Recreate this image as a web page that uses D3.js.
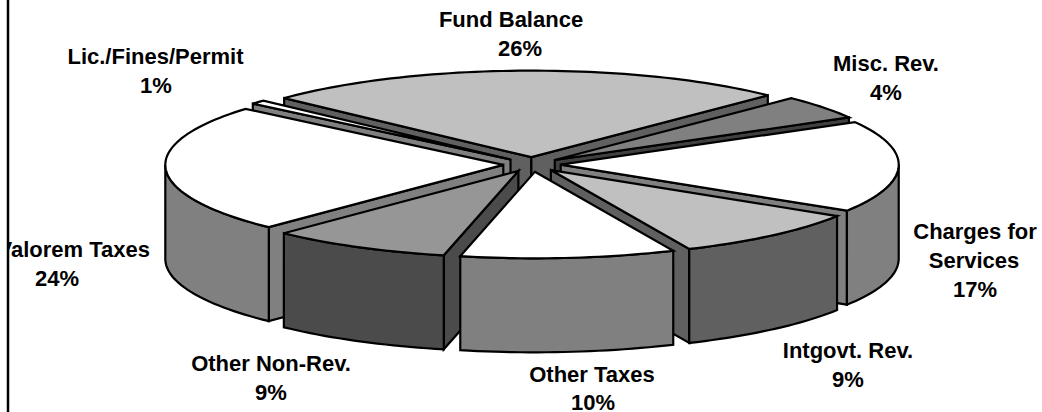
<!DOCTYPE html>
<html><head><meta charset="utf-8">
<style>html,body{margin:0;padding:0;background:#fff}svg{display:block}</style>
<script src="https://cdn.jsdelivr.net/npm/d3@7"></script></head>
<body><svg id="c" width="1042" height="412"></svg>
<script>
const categories = ["Fund Balance","Misc. Rev.","Charges for Services","Intgovt. Rev.","Other Taxes","Other Non-Rev.","Ad Valorem Taxes","Lic./Fines/Permit"];
const shares = [25.5,4.49,17.2,9.4,10.3,8.7,24.1,0.75];
const percentLabels = ["26%","4%","17%","9%","10%","9%","24%","1%"];
const topColors = ["#c0c0c0","#808080","#ffffff","#c0c0c0","#ffffff","#969696","#ffffff","#ffffff"];
const sideColors = ["#606060","#404040","#808080","#606060","#808080","#4b4b4b","#808080","#808080"];
const labelLines = [[["Fund Balance",511,27],["26%",520,56]],[["Misc. Rev.",886,71],["4%",886,100]],[["Charges for",975,239],["Services",974,268],["17%",975,297]],[["Intgovt. Rev.",848,358],["9%",848,387]],[["Other Taxes",592,382],["10%",593,410]],[["Other Non-Rev.",271,371],["9%",271,400]],[["Ad Valorem Taxes",56,257],["24%",57,286]],[["Lic./Fines/Permit",155.5,64],["1%",156,93]]];

const W=1042,H=412,cx=532,cy=164.5,rx=338,ry=86.5,depth=94,explode=0.085;
const svg=d3.select("#c");
const px=d3.scaleLinear().domain([-1,1]).range([cx-rx,cx+rx]);
const py=d3.scaleLinear().domain([-1,1]).range([cy-ry,cy+ry]);
const rad=d=>d*Math.PI/180;
const pie=d3.pie().sort(null).startAngle(rad(223)).endAngle(rad(583));
const arcs=pie(shares).map((a,i)=>({...a,i,mid:(a.startAngle+a.endAngle)/2}));
const line=d3.line();
const rim=(a,s,e)=>{const n=Math.max(2,Math.ceil((e-s)/rad(1.5)));return d3.range(n+1).map(k=>{const t=s+(e-s)*k/n;return [a.ox+rx*Math.cos(t),a.oy+ry*Math.sin(t)];});};
arcs.forEach(a=>{a.ox=px(explode*Math.cos(a.mid));a.oy=py(explode*Math.sin(a.mid));});
const order=arcs.slice().sort((p,q)=>Math.sin(p.mid)-Math.sin(q.mid));
const g=svg.append("g").attr("stroke","#000").attr("stroke-width",2.2).attr("stroke-linejoin","miter");
order.forEach(a=>{
  const side=sideColors[a.i];
  const draw=(pts,fill)=>g.append("path").attr("d",line(pts)+"Z").attr("fill",fill);
  const cut=t=>{const e=[a.ox+rx*Math.cos(t),a.oy+ry*Math.sin(t)];draw([[a.ox,a.oy],e,[e[0],e[1]+depth],[a.ox,a.oy+depth]],side);};
  if(-Math.cos(a.startAngle)>0)cut(a.startAngle);
  if(Math.cos(a.endAngle)>0)cut(a.endAngle);
  // outer wall over each front-facing turn of the circle
  [[0,Math.PI],[2*Math.PI,3*Math.PI]].forEach(([lo,hi])=>{
    const s=Math.max(a.startAngle,lo),e=Math.min(a.endAngle,hi);
    if(e>s){const r=rim(a,s,e);draw(r.concat(r.slice().reverse().map(p=>[p[0],p[1]+depth])),side);}
  });
  draw([[a.ox,a.oy]].concat(rim(a,a.startAngle,a.endAngle)),topColors[a.i]);
});
svg.append("clipPath").attr("id","lc").append("rect").attr("x",8).attr("y",0).attr("width",W-8).attr("height",H);
const tg=svg.append("g").attr("clip-path","url(#lc)").attr("font-family","'Liberation Sans',Arial,sans-serif").attr("font-weight","bold").attr("font-size",22).attr("text-anchor","middle").attr("fill","#000");
labelLines.forEach(ls=>ls.forEach(([s,x,y])=>tg.append("text").attr("x",x).attr("y",y).text(s)));
svg.append("line").attr("x1",8).attr("x2",8).attr("y1",0).attr("y2",H).attr("stroke","#000").attr("stroke-width",2.5);
</script></body></html>
